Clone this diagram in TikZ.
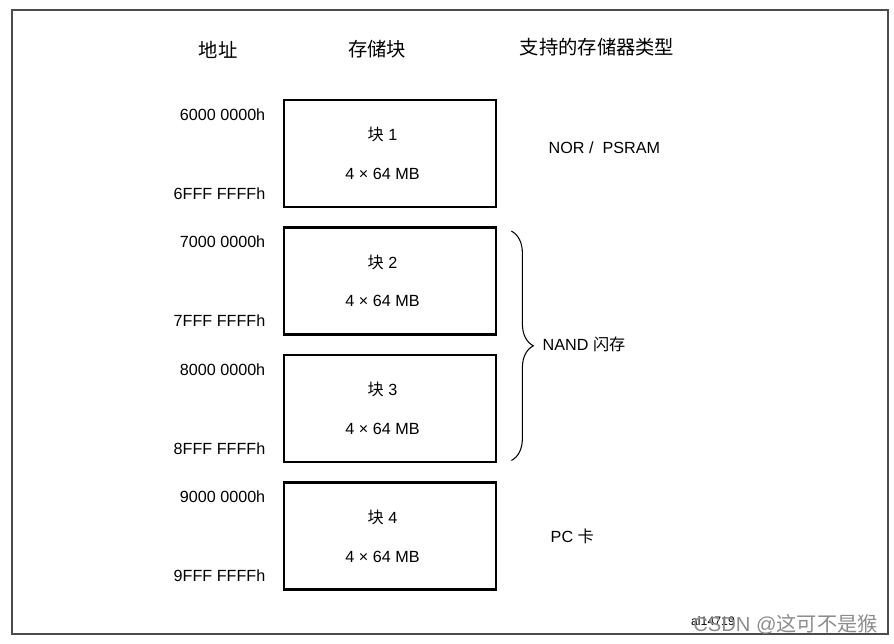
\documentclass[tikz,border=0pt]{standalone}
\usepackage{fontspec}
\setmainfont{Liberation Sans}
\newfontfamily\cjk{Noto Sans CJK SC}
\usetikzlibrary{positioning,calc,decorations.pathreplacing}

\begin{document}
\begin{tikzpicture}[x=0.02cm,y=-0.02cm,
  font=\fontsize{9.2}{11}\selectfont,
  blk/.style={draw,line width=1.6pt,minimum width=4.24cm,minimum height=2.14cm,
              align=center,inner sep=0pt},
  addr/.style={anchor=east,inner sep=0pt},
  hdr/.style={font=\fontsize{11}{13}\selectfont\cjk,inner sep=0pt},
  kind/.style={anchor=west,inner sep=0pt},
  brc/.style={decorate,decoration={brace,amplitude=0.44cm},line width=0.6pt},
]
\useasboundingbox (0,0) rectangle (894,644);
\draw[black!70,line width=0.8pt] (12,10) rectangle (888,634);
% column heads
\node[hdr] (haddr) at (218,50) {地址};
\node[hdr] (hblk) at (377,49) {存储块};
\node[hdr] (htype) at (597,47) {支持的存储器类型};
% the four banks
\node[blk] (b1) at (390,153.5) {{\cjk 块} 1\hspace*{0.3cm}\\[11pt]4 × 64 MB\hspace*{0.3cm}};
\node[blk,below=0.355cm of b1] (b2) {{\cjk 块} 2\hspace*{0.3cm}\\[11pt]4 × 64 MB\hspace*{0.3cm}};
\node[blk,below=0.355cm of b2] (b3) {{\cjk 块} 3\hspace*{0.3cm}\\[11pt]4 × 64 MB\hspace*{0.3cm}};
\node[blk,below=0.355cm of b3] (b4) {{\cjk 块} 4\hspace*{0.3cm}\\[11pt]4 × 64 MB\hspace*{0.3cm}};
\foreach \i/\s in {1/6,2/7,3/8,4/9}{
  \node[addr] (a\i s) at ($(b\i.north west)+(-17,16)$) {\s000 0000h};
  \node[addr] (a\i e) at ($(b\i.south west)+(-17,-15)$) {\s FFF FFFFh};
}
% memory types
\node[kind] (nor) at ($(b1.east)+(51,-6)$) {NOR / \ PSRAM};
\coordinate (br1) at ($(b2.north east)+(14,5)$);
\coordinate (br2) at ($(b3.south east)+(14,-3)$);
\draw[brc] (br1) -- (br2);
\node[kind] (nand) at ($(br1)!0.5!(br2)+(31,-1)$) {NAND {\cjk 闪存}};
\node[kind] (pc) at ($(b4.east)+(53,0)$) {PC {\cjk 卡}};
\node[font=\fontsize{7}{8}\selectfont,inner sep=0pt] (fig) at (713,621) {ai14719};
\node[anchor=east,inner sep=0pt,text=black!45,font=\fontsize{11.5}{13}\selectfont] (wm) at (878,624) {CSDN @{\cjk 这可不是猴}};
\end{tikzpicture}
\end{document}
